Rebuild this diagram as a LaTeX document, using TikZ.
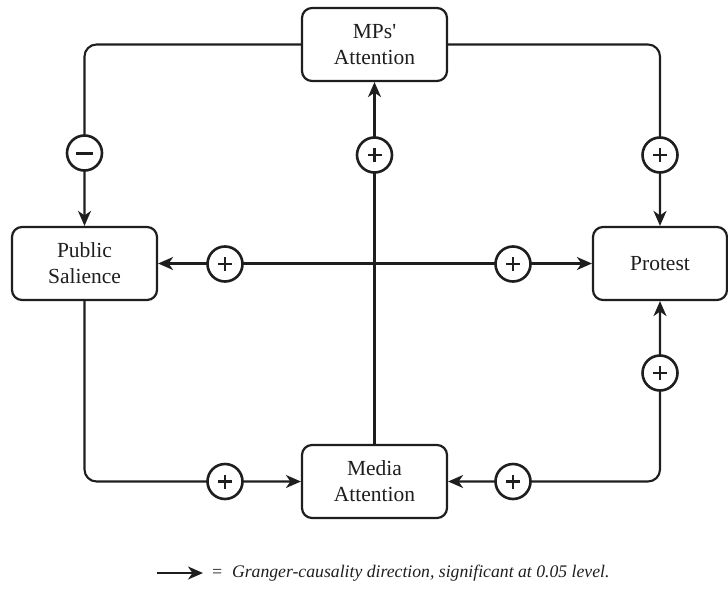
\documentclass[tikz,border=0pt]{standalone}
\usepackage{fontspec}
\setmainfont{Liberation Serif}
\usetikzlibrary{arrows.meta,calc}
\definecolor{ink}{HTML}{1E1E1E}
\begin{document}
\begin{tikzpicture}[x=1pt,y=-1pt,
  box/.style={draw=ink,line width=2.2pt,rounded corners=10pt,fill=white,
    minimum width=145pt,minimum height=73pt,inner sep=0pt,align=center,
    font=\fontsize{21.5}{26}\selectfont,text=ink},
  link/.style={draw=ink,line width=2.1pt,rounded corners=12pt},
  tip/.style={-{Stealth[length=15pt,width=13pt,inset=4.5pt]}},
  both/.style={{Stealth[length=15pt,width=13pt,inset=4.5pt]}-{Stealth[length=15pt,width=13pt,inset=4.5pt]}},
  sgn/.style={circle,draw=ink,line width=2.6pt,fill=white,minimum size=35pt,inner sep=0pt},
  plussign/.style={sgn,path picture={
    \draw[ink,line width=2.8pt] ($(path picture bounding box.center)+(-7pt,0)$) -- ++(14pt,0);
    \draw[ink,line width=2.8pt] ($(path picture bounding box.center)+(0,-7pt)$) -- ++(0,14pt);}},
  minussign/.style={sgn,path picture={
    \draw[ink,line width=3pt] ($(path picture bounding box.center)+(-8.5pt,0)$) -- ++(17pt,0);}}
]
\useasboundingbox (0,0) rectangle (728,605);
\node[box] (mps) at (374.5,44.5) {MPs\textquotesingle\\Attention};
\node[box] (ps) at (84.5,263.5) {Public\\Salience};
\node[box,minimum width=134pt] (pr) at (660,263.5) {Protest};
\node[box] (ma) at (374.5,481.5) {Media\\Attention};

\draw[link,tip] (mps.west) -| (ps.north);
\draw[link,tip] (mps.east) -| (pr.north);
\draw[link,tip] (ma.north) -- (mps.south);
\draw[link,both] (ps.east) -- (pr.west);
\draw[link,tip] (ps.south) |- (ma.west);
\draw[link,both] (ma.east) -| (pr.south);

\node[minussign] (s1) at (84.5,153) {};
\node[plussign] (s2) at (374.5,155) {};
\node[plussign] (s3) at (660,155) {};
\node[plussign] (s4) at (225,264) {};
\node[plussign] (s5) at (513,264) {};
\node[plussign] (s6) at (225,481.5) {};
\node[plussign] (s7) at (513,481.5) {};
\node[plussign] (s8) at (660,373) {};

\coordinate (la) at (157,573);
\coordinate (lb) at (203,573);
\node[anchor=west,inner sep=0pt,text=ink,font=\fontsize{17.7}{21}\selectfont\itshape] (leg) at (211,573) {=\enspace Granger-causality direction, significant at 0.05 level.};
\draw[link,tip] (la) -- (lb);
\end{tikzpicture}
\end{document}
